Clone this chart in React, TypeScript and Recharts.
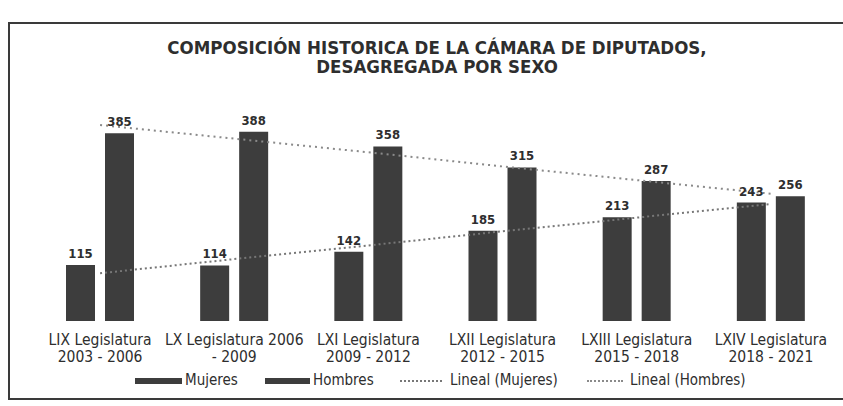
import React from 'react';
import { ComposedChart, Bar, Line, XAxis, YAxis, LabelList } from 'recharts';

const legislaturas = [
  'LIX Legislatura',
  'LX Legislatura 2006',
  'LXI Legislatura',
  'LXII Legislatura',
  'LXIII Legislatura',
  'LXIV Legislatura',
];
const periodos = ['2003 - 2006', '- 2009', '2009 - 2012', '2012 - 2015', '2015 - 2018', '2018 - 2021'];
const mujeres = [115, 114, 142, 185, 213, 243];
const hombres = [385, 388, 358, 315, 287, 256];
// líneas de tendencia
const linealMujeres = [98, 127, 155, 184, 212, 240];
const linealHombres = [402, 374, 346, 317, 289, 261];

const data = legislaturas.map((name, i) => ({
  name,
  periodo: periodos[i],
  mujeres: mujeres[i],
  hombres: hombres[i],
  linealMujeres: linealMujeres[i],
  linealHombres: linealHombres[i],
}));

const FONT = '"Liberation Sans Narrow", "DejaVu Sans Condensed", "Arial Narrow", sans-serif';
const BAR = '#3d3d3d';
const INK = '#2e2e2e';

const TickLegislatura = (props: any) => {
  const { x, y, payload } = props;
  const i = payload.index;
  return (
    <text x={x} y={y} textAnchor="middle" fill={INK} fontFamily={FONT} fontSize={15.5}>
      <tspan x={x} dy={16}>{legislaturas[i]}</tspan>
      <tspan x={x} dy={17}>{periodos[i]}</tspan>
    </text>
  );
};

const labelStyle = { fontFamily: FONT, fontSize: 13, fontWeight: 700, fill: INK };

export default function App() {
  return (
    <div style={{ position: 'absolute', left: 0, top: 0, width: 843, height: 406, overflow: 'hidden', background: '#fff' }}>
      <div
        style={{
          position: 'absolute',
          left: 8,
          top: 22,
          width: 860,
          height: 374,
          border: '2px solid #3a3a3a',
        }}
      />
      <div
        style={{
          position: 'absolute',
          left: 87,
          width: 700,
          top: 38,
          textAlign: 'center',
          whiteSpace: 'nowrap',
          fontFamily: FONT,
          fontWeight: 700,
          fontSize: 18.5,
          lineHeight: '19px',
          color: INK,
        }}
      >
        COMPOSICIÓN HISTORICA DE LA CÁMARA DE DIPUTADOS,
        <br />
        DESAGREGADA POR SEXO
      </div>
      <div style={{ position: 'absolute', left: 0, top: 0 }}>
        <ComposedChart
          width={843}
          height={406}
          data={data}
          margin={{ top: 125, right: 5, left: 33, bottom: 0 }}
          barGap={10}
        >
          <XAxis dataKey="name" height={85} axisLine={false} tickLine={false} tick={<TickLegislatura />} interval={0} />
          <YAxis hide domain={[0, 400]} />
          <Bar dataKey="mujeres" name="Mujeres" fill={BAR} barSize={29} isAnimationActive={false}>
            <LabelList dataKey="mujeres" position="top" offset={7} style={labelStyle} />
          </Bar>
          <Bar dataKey="hombres" name="Hombres" fill={BAR} barSize={29} isAnimationActive={false}>
            <LabelList dataKey="hombres" position="top" offset={7} style={labelStyle} />
          </Bar>
          <Line
            dataKey="linealMujeres"
            name="Lineal (Mujeres)"
            stroke="#777"
            strokeWidth={2}
            strokeDasharray="2 3"
            dot={false}
            isAnimationActive={false}
          />
          <Line
            dataKey="linealHombres"
            name="Lineal (Hombres)"
            stroke="#8a8a8a"
            strokeWidth={2}
            strokeDasharray="2 4"
            dot={false}
            isAnimationActive={false}
          />
        </ComposedChart>
      </div>
      <div style={{ position: 'absolute', top: 371, left: 0, fontFamily: FONT, fontSize: 15, color: INK }}>
        <div style={{ position: 'absolute', left: 135, top: 7, width: 47, height: 6, background: BAR }} />
        <div style={{ position: 'absolute', left: 185, top: 0, whiteSpace: 'nowrap' }}>Mujeres</div>
        <div style={{ position: 'absolute', left: 265, top: 7, width: 45, height: 6, background: BAR }} />
        <div style={{ position: 'absolute', left: 313, top: 0, whiteSpace: 'nowrap' }}>Hombres</div>
        <div style={{ position: 'absolute', left: 400, top: 9, width: 42, borderTop: '2px dotted #777' }} />
        <div style={{ position: 'absolute', left: 450, top: 0, whiteSpace: 'nowrap' }}>Lineal (Mujeres)</div>
        <div style={{ position: 'absolute', left: 587, top: 9, width: 36, borderTop: '2px dotted #8a8a8a' }} />
        <div style={{ position: 'absolute', left: 630, top: 0, whiteSpace: 'nowrap' }}>Lineal (Hombres)</div>
      </div>
    </div>
  );
}
